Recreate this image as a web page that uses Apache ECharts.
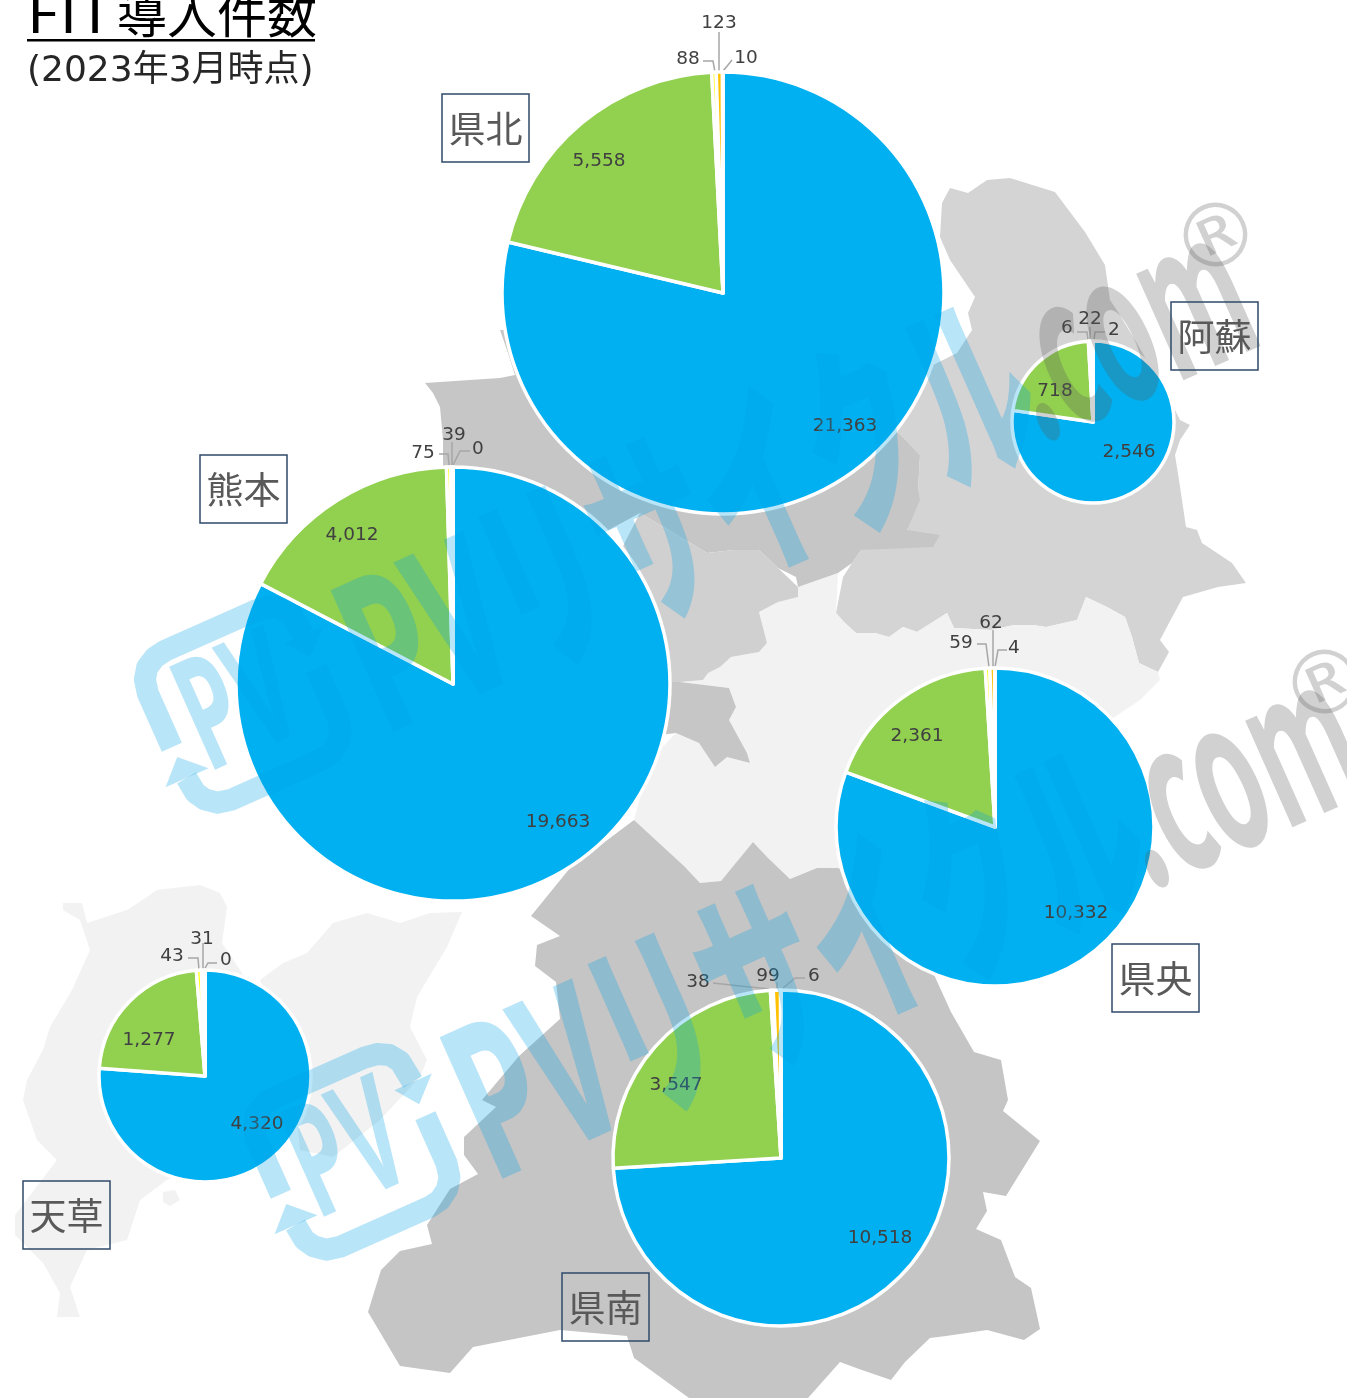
<!DOCTYPE html>
<html>
<head>
<meta charset="utf-8">
<style>
  html, body { margin: 0; padding: 0; background: #fff; }
  #chart { width: 1347px; height: 1398px; }
</style>
<script src="https://cdn.jsdelivr.net/npm/echarts@6/dist/echarts.min.js"></script>
</head>
<body>
<div id="chart"></div>
<script>
// slices clockwise from 12 o'clock: blue, green, yellow, orange, last sliver
const kenpoku = [21363, 5558, 88, 123, 10]
const aso = [2546, 718, 6, 22, 2]
const kumamoto = [19663, 4012, 75, 39, 0]
const kenou = [10332, 2361, 59, 62, 4]
const kennan = [10518, 3547, 38, 99, 6]
const amakusa = [4320, 1277, 43, 31, 0]

const regionNames = ['県北', '阿蘇', '熊本', '県央', '県南', '天草']
const regionValues = [kenpoku, aso, kumamoto, kenou, kennan, amakusa]
const sliceColors = ['#00b0f0', '#92d050', '#ffff00', '#ffc000', '#ed7d31']

// pie placement [cx, cy, r]
const piePlaces = [
  [723, 293, 221],
  [1093, 422, 81],
  [453, 684, 217],
  [995, 827, 159],
  [781, 1158, 168],
  [205, 1076, 106],
]
// label centres, one per slice
const labelSpots = [
  [[845, 426], [599, 161], [688, 59], [719, 23], [746, 58]],
  [[1129, 452], [1055, 391], [1067, 328], [1090, 319], [1114, 330]],
  [[558, 822], [352, 535], [423, 453], [454, 435], [478, 449]],
  [[1076, 913], [917, 736], [961, 643], [991, 623], [1014, 648]],
  [[880, 1238], [676, 1085], [698, 982], [768, 976], [814, 976]],
  [[257, 1124], [149, 1040], [172, 956], [202, 939], [226, 960]],
]
// leader lines of the three small slices
const leaderLines = [
  [[[715, 72], [713, 61], [703, 61]], [[719, 72], [719, 50], [719, 32]], [[723, 71], [728, 65], [732, 60]]],
  [[[1088, 340], [1087, 332], [1077, 332]], [[1090, 340], [1090, 334], [1090, 327]], [[1094, 340], [1095, 332], [1105, 332]]],
  [[[449, 465], [448, 454], [439, 454]], [[452, 465], [452, 452], [452, 442]], [[453, 465], [460, 451], [470, 451]]],
  [[[989, 667], [986, 644], [977, 644]], [[993, 667], [993, 650], [993, 630]], [[995, 667], [998, 650], [1007, 650]]],
  [[[770, 989], [740, 986], [713, 983]], [[777, 989], [777, 985], [777, 982]], [[782, 989], [795, 978], [805, 978]]],
  [[[199, 970], [198, 958], [188, 958]], [[203, 970], [203, 955], [203, 943]], [[204, 970], [208, 963], [217, 963]]],
]
const regionBoxes = [
  [442, 94], [1171, 302], [200, 455], [1112, 944], [562, 1273], [23, 1181],
]

// map backdrop outlines
const mapAso = [[987,180],[1010,178],[1055,192],[1085,232],[1105,265],[1110,300],[1118,312],[1135,340],[1170,400],[1180,420],[1190,425],[1180,440],[1175,455],[1179,480],[1186,527],[1197,530],[1202,543],[1232,563],[1246,583],[1218,587],[1183,597],[1169,623],[1160,640],[1169,652],[1158,672],[1139,663],[1132,637],[1125,617],[1107,607],[1086,597],[1077,620],[1046,627],[1033,625],[1014,625],[991,630],[954,628],[947,613],[917,632],[903,627],[889,637],[875,633],[856,633],[845,623],[836,613],[843,577],[852,563],[861,550],[921,543],[935,545],[907,530],[918,490],[920,455],[903,437],[860,400],[933,365],[957,353],[972,330],[968,313],[975,297],[950,260],[940,237],[942,203],[950,188],[968,193]]
const mapKenpoku = [[425,383],[500,378],[515,375],[507,350],[500,330],[515,330],[560,400],[700,430],[860,400],[903,437],[920,455],[918,490],[920,500],[907,530],[940,535],[933,547],[861,550],[852,563],[838,573],[798,587],[796,577],[778,568],[759,550],[734,550],[707,553],[640,513],[590,540],[500,520],[443,470],[443,440],[440,407],[433,393]]
const mapKumamoto = [[640,513],[625,542],[600,600],[600,682],[680,682],[703,680],[708,673],[720,667],[731,657],[759,652],[767,643],[759,612],[778,602],[798,597],[798,587],[778,568],[759,550],[734,550],[707,553]]
const mapKumamotoSouth = [[620,682],[680,682],[729,688],[736,707],[729,720],[747,753],[750,763],[727,757],[715,767],[699,743],[676,733],[620,740]]
const mapKenou = [[838,573],[836,613],[845,623],[856,633],[875,633],[889,637],[903,627],[917,632],[947,613],[954,628],[991,630],[1014,625],[1033,625],[1046,627],[1077,620],[1086,597],[1107,607],[1125,617],[1132,637],[1139,663],[1158,672],[1160,680],[1140,700],[1110,720],[1100,900],[900,950],[838,868],[817,868],[790,879],[767,857],[753,842],[721,881],[700,883],[684,866],[634,820],[650,760],[676,733],[699,743],[715,767],[727,757],[750,763],[747,753],[729,720],[736,707],[729,688],[680,682],[703,680],[708,673],[720,667],[731,657],[759,652],[767,643],[759,612],[778,602],[798,597],[798,587]]
const mapKennan = [[634,820],[684,866],[700,883],[721,881],[753,842],[767,857],[790,879],[817,868],[838,868],[900,900],[951,1012],[974,1052],[1001,1060],[1008,1100],[1003,1111],[1040,1141],[1006,1196],[983,1192],[987,1211],[976,1229],[1001,1240],[1015,1277],[1031,1288],[1040,1329],[1024,1340],[987,1330],[946,1336],[930,1338],[905,1362],[891,1380],[859,1369],[840,1362],[808,1398],[689,1398],[634,1358],[627,1336],[560,1330],[473,1347],[450,1373],[400,1366],[368,1312],[381,1270],[400,1251],[432,1244],[427,1225],[450,1189],[478,1174],[464,1155],[464,1137],[496,1107],[482,1100],[519,1056],[560,1019],[556,982],[535,966],[537,945],[560,936],[531,916],[570,868]]
const mapAmakusaMain = [[157,890],[200,885],[220,893],[227,907],[222,943],[260,1000],[260,1130],[167,1180],[140,1200],[127,1240],[87,1250],[70,1287],[80,1317],[57,1317],[60,1293],[43,1263],[15,1235],[15,1215],[57,1160],[37,1140],[23,1100],[27,1080],[43,1050],[50,1027],[72,990],[90,950],[80,920],[63,910],[63,903],[82,903],[87,923],[127,910],[147,897]]
const mapAmakusaUpper = [[260,980],[283,963],[307,953],[333,923],[367,913],[400,923],[430,913],[462,912],[447,947],[417,997],[410,1027],[427,1060],[420,1077],[380,1120],[333,1157],[300,1150],[290,1050]]
const mapAmakusaIslet = [[163,1192],[175,1190],[180,1200],[170,1206],[163,1202]]

const polygon = (points, fill) => ({
  type: 'polygon', silent: true, z: 0, shape: { points }, style: { fill },
})

const wmBlue = 'rgba(0,160,230,0.28)'
const wmGray = 'rgba(90,90,90,0.28)'
const wmAngle = 24 * Math.PI / 180

// logo and name of the site, repeated twice over the chart
const logoTop = [[-81,7],[-81,-52],[-78,-66],[-71,-76],[-60,-82],[-48,-84],[50,-84],[64,-82],[75,-76],[82,-66],[85,-42]]
const logoBottom = [[83,-6],[83,46],[80,60],[73,70],[62,77],[50,79],[-48,79],[-62,76],[-72,68],[-78,58],[-80,41]]
const wmLine = (points) => ({
  type: 'polyline', z: 50, shape: { points },
  style: { fill: null, stroke: wmBlue, lineWidth: 22, lineJoin: 'round' },
})
const watermark = (x, y) => ({
  type: 'group', x, y, rotation: wmAngle, silent: true,
  children: [
    wmLine(logoTop),
    wmLine(logoBottom),
    { type: 'polygon', z: 50, shape: { points: [[-80, 18], [-103, 41], [-56, 41]] }, style: { fill: wmBlue } },
    { type: 'polygon', z: 50, shape: { points: [[106, -42], [82, -19], [65, -42]] }, style: { fill: wmBlue } },
    { type: 'text', z: 50, x: -58, y: 0, scaleX: 0.55, style: { text: 'PV', font: 'bold 158px "Noto Sans"', fill: wmBlue, textVerticalAlign: 'middle' } },
    { type: 'text', z: 50, x: 118, y: 4, scaleX: 0.556, style: { text: 'PVリサイクル', font: '900 208px "Noto Sans CJK JP"', fill: wmBlue, textVerticalAlign: 'middle' } },
    { type: 'text', z: 50, x: 835, y: 4, scaleX: 0.5, style: { text: '.com', font: 'bold 208px "Noto Sans CJK JP"', fill: wmGray, textVerticalAlign: 'middle' } },
    { type: 'text', z: 50, x: 1081, y: -28, style: { text: '®', font: '88px "DejaVu Sans"', fill: wmGray, textAlign: 'center', textVerticalAlign: 'middle' } },
  ],
})

const chart = echarts.init(document.getElementById('chart'))

const series = regionValues.map((values, r) => ({
  type: 'pie',
  name: regionNames[r],
  center: [piePlaces[r][0], piePlaces[r][1]],
  radius: piePlaces[r][2],
  startAngle: 90,
  clockwise: true,
  avoidLabelOverlap: false,
  animation: false,
  silent: true,
  z: 2,
  itemStyle: { borderColor: '#fff', borderWidth: 3.5 },
  label: {
    formatter: (p) => p.value.toLocaleString('en-US'),
    fontFamily: '"DejaVu Sans"',
    fontSize: 18.5,
    color: '#404040',
  },
  labelLine: { lineStyle: { color: '#a6a6a6', width: 1.5 } },
  labelLayout: (p) => {
    const spot = labelSpots[r][p.dataIndex]
    const out = { x: spot[0], y: spot[1], align: 'center', verticalAlign: 'middle' }
    if (p.dataIndex >= 2) out.labelLinePoints = leaderLines[r][p.dataIndex - 2]
    return out
  },
  data: values.map((v, i) => ({
    value: v,
    name: String(i),
    itemStyle: { color: sliceColors[i] },
    label: { show: true, position: i < 2 ? 'inside' : 'outside' },
    labelLine: { show: i >= 2 },
  })),
}))

const boxes = regionNames.flatMap((name, i) => [
  { type: 'rect', silent: true, z: 60, shape: { x: regionBoxes[i][0], y: regionBoxes[i][1], width: 87, height: 68 }, style: { fill: null, stroke: '#2f4a6b', lineWidth: 1.5 } },
  { type: 'text', silent: true, z: 60, x: regionBoxes[i][0] + 43.5, y: regionBoxes[i][1] + 35, style: { text: name, font: '37px "Noto Sans CJK JP"', fill: '#595959', textAlign: 'center', textVerticalAlign: 'middle' } },
])

chart.setOption({
  animation: false,
  series,
  graphic: {
    elements: [
      polygon(mapAso, '#d5d4d5'),
      polygon(mapKenou, '#f2f2f2'),
      polygon(mapKenpoku, '#c6c6c6'),
      polygon(mapKumamoto, '#d0d0d0'),
      polygon(mapKumamotoSouth, '#c6c6c6'),
      polygon(mapKennan, '#c5c5c5'),
      polygon(mapAmakusaMain, '#f2f2f2'),
      polygon(mapAmakusaUpper, '#f2f2f2'),
      polygon(mapAmakusaIslet, '#f2f2f2'),
      watermark(243, 708),
      watermark(352, 1155),
      ...boxes,
      { type: 'text', silent: true, z: 60, x: 27, y: 39, scaleX: 1.19, style: { text: 'FIT', font: '50px "Noto Sans CJK JP"', fill: '#000', textVerticalAlign: 'bottom' } },
      { type: 'text', silent: true, z: 60, x: 117, y: 39, style: { text: '導入件数', font: '50px "Noto Sans CJK JP"', fill: '#000', textVerticalAlign: 'bottom' } },
      { type: 'rect', silent: true, z: 60, shape: { x: 27, y: 39, width: 288, height: 2.5 }, style: { fill: '#000' } },
      { type: 'text', silent: true, z: 60, x: 27, y: 72, style: { text: '(2023年3月時点)', font: '36px "DejaVu Sans","Noto Sans CJK JP"', fill: '#262626', textVerticalAlign: 'middle' } },
    ],
  },
})

window.addEventListener('resize', () => chart.resize())
</script>
</body>
</html>
